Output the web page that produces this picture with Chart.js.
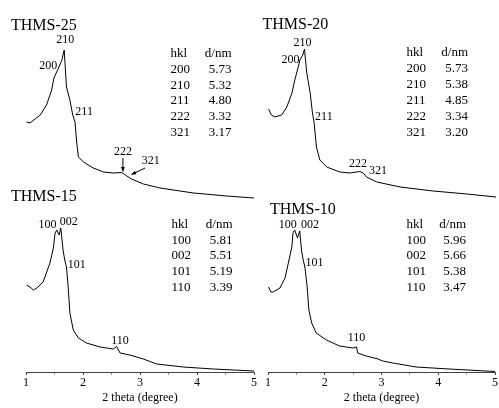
<!DOCTYPE html>
<html>
<head>
<meta charset="utf-8">
<script src="https://cdn.jsdelivr.net/npm/chart.js@4.4.1/dist/chart.umd.min.js"></script>
<style>
  html, body { margin: 0; padding: 0; background: #fff; }
  #wrap { position: relative; width: 499px; height: 408px; }
  #wrap canvas { position: absolute; left: 0; top: 0; }
</style>
</head>
<body>
<div id="wrap">
  <canvas id="c25" width="499" height="408"></canvas>
  <canvas id="c20" width="499" height="408"></canvas>
  <canvas id="c15" width="499" height="408"></canvas>
  <canvas id="c10" width="499" height="408"></canvas>
</div>
<script>
const SERIF = '"Liberation Serif", "Times New Roman", serif'

// THMS-25 (2 theta in degree, intensity in a.u.)
const theta25 = [1.01, 1.07, 1.25, 1.36, 1.45, 1.49, 1.57, 1.63, 1.67, 1.71, 1.77, 1.82, 1.86, 1.89, 1.92, 2.01, 2.18, 2.36, 2.53, 2.68, 2.77, 2.85, 3.06, 3.35, 3.94, 4.52, 5.00]
const int25 = [78, 77, 85, 95, 110, 122, 132, 140, 150, 113, 100, 85, 78, 57, 43, 38, 32, 28, 27, 27.5, 24, 21, 16, 12, 7, 4, 2]
const hkl25 = ['200', '210', '211', '222', '321']
const dnm25 = ['5.73', '5.32', '4.80', '3.32', '3.17']
const peaks25 = [
  { t: '210', x: 1.69, y: 160 },
  { t: '200', x: 1.39, y: 134 },
  { t: '211', x: 2.02, y: 88 },
  { t: '222', x: 2.70, y: 48 },
  { t: '321', x: 3.19, y: 39 },
]
const arrows25 = [
  { x1: 2.70, y1: 42, x2: 2.70, y2: 28.5 },
  { x1: 3.09, y1: 32, x2: 2.85, y2: 25.5 },
]

// THMS-20
const theta20 = [1.01, 1.06, 1.12, 1.24, 1.33, 1.42, 1.47, 1.53, 1.56, 1.61, 1.64, 1.68, 1.74, 1.78, 1.81, 1.85, 1.91, 2.03, 2.26, 2.44, 2.61, 2.67, 2.73, 2.91, 3.32, 3.90, 4.49, 5.00]
const int20 = [91, 85, 83, 85, 93, 107, 120, 133, 140, 145, 151, 127, 107, 87, 77, 53, 40, 33, 28, 27, 28.5, 27, 23, 18, 13, 9, 6, 3]
const hkl20 = ['200', '210', '211', '222', '321']
const dnm20 = ['5.73', '5.38', '4.85', '3.34', '3.20']
const peaks20 = [
  { t: '210', x: 1.605, y: 157 },
  { t: '200', x: 1.395, y: 140 },
  { t: '211', x: 1.98, y: 83 },
  { t: '222', x: 2.58, y: 36 },
  { t: '321', x: 2.93, y: 29 },
]

// THMS-15
const theta15 = [1.01, 1.07, 1.13, 1.19, 1.30, 1.42, 1.48, 1.51, 1.54, 1.58, 1.61, 1.65, 1.68, 1.71, 1.74, 1.77, 1.83, 1.92, 2.06, 2.30, 2.53, 2.59, 2.65, 2.82, 3.06, 3.29, 3.76, 4.29, 5.00]
const int15 = [87, 85, 82, 84, 90, 109, 124, 139, 142, 137, 144, 122, 112, 105, 85, 59, 42, 34, 29, 25, 23, 25.5, 19, 17, 13, 8, 5, 3, 1]
const hkl15 = ['100', '002', '101', '110']
const dnm15 = ['5.81', '5.51', '5.19', '3.39']
const peaks15 = [
  { t: '100', x: 1.377, y: 147 },
  { t: '002', x: 1.75, y: 150 },
  { t: '101', x: 1.89, y: 107 },
  { t: '110', x: 2.65, y: 31 },
]

// THMS-10
const theta10 = [1.01, 1.05, 1.09, 1.21, 1.30, 1.37, 1.42, 1.44, 1.47, 1.52, 1.56, 1.59, 1.62, 1.65, 1.69, 1.72, 1.77, 1.85, 2.03, 2.26, 2.50, 2.56, 2.58, 2.73, 2.94, 3.02, 3.20, 3.61, 4.19, 5.00]
const int10 = [85, 80, 80, 84, 94, 112, 125, 139, 142, 134, 141, 122, 112, 105, 85, 62, 49, 39, 32, 26, 24, 25, 19, 16, 13, 11, 9, 5, 3, 0.5]
const hkl10 = ['100', '002', '101', '110']
const dnm10 = ['5.96', '5.66', '5.38', '3.47']
const peaks10 = [
  { t: '100', x: 1.35, y: 147 },
  { t: '002', x: 1.74, y: 147 },
  { t: '101', x: 1.82, y: 109 },
  { t: '110', x: 2.56, y: 34 },
]

const xTicks = [1, 2, 3, 4, 5]

// draws sample name, hkl table, peak labels and arrows
const panelText = {
  id: 'panelText',
  afterDraw(chart, args, opts) {
    const ctx = chart.ctx
    const xs = chart.scales.x
    const ys = chart.scales.y
    ctx.save()
    ctx.fillStyle = '#000'
    ctx.strokeStyle = '#000'

    ctx.font = '16px ' + SERIF
    ctx.textAlign = 'left'
    ctx.textBaseline = 'alphabetic'
    ctx.fillText(opts.name, opts.nameX, opts.nameY)

    ctx.font = '13px ' + SERIF
    ctx.fillText('hkl', opts.tableX, opts.tableY)
    ctx.textAlign = 'right'
    ctx.fillText('d/nm', opts.tableX + opts.colW, opts.tableY)
    opts.hkl.forEach((h, i) => {
      const y = opts.tableY + (i + 1) * opts.rowH
      ctx.textAlign = 'left'
      ctx.fillText(h, opts.tableX, y)
      ctx.textAlign = 'right'
      ctx.fillText(opts.d[i], opts.tableX + opts.colW, y)
    })

    ctx.font = '12px ' + SERIF
    ctx.textAlign = 'center'
    ctx.textBaseline = 'middle'
    opts.peaks.forEach((p) => {
      ctx.fillText(p.t, xs.getPixelForValue(p.x), ys.getPixelForValue(p.y))
    })

    ctx.lineWidth = 1
    ;(opts.arrows || []).forEach((a) => {
      const x1 = xs.getPixelForValue(a.x1)
      const y1 = ys.getPixelForValue(a.y1)
      const x2 = xs.getPixelForValue(a.x2)
      const y2 = ys.getPixelForValue(a.y2)
      const ang = Math.atan2(y2 - y1, x2 - x1)
      ctx.beginPath()
      ctx.moveTo(x1, y1)
      ctx.lineTo(x2, y2)
      ctx.stroke()
      ctx.beginPath()
      ctx.moveTo(x2, y2)
      ctx.lineTo(x2 - 5 * Math.cos(ang - 0.4), y2 - 5 * Math.sin(ang - 0.4))
      ctx.lineTo(x2 - 5 * Math.cos(ang + 0.4), y2 - 5 * Math.sin(ang + 0.4))
      ctx.closePath()
      ctx.fill()
    })
    ctx.restore()
  },
}

function makePanel(id, theta, inten, padding, showAxis, text) {
  const xAxis = {
    type: 'linear',
    min: 1,
    max: 5,
    display: showAxis,
    border: { display: true, color: '#444', width: 1 },
    grid: {
      drawOnChartArea: false,
      drawTicks: true,
      tickLength: 3,
      tickColor: (c) => (xTicks.includes(c.tick.value) ? '#444' : '#999'),
    },
    ticks: {
      stepSize: 0.5,
      autoSkip: false,
      maxRotation: 0,
      padding: 1,
      color: '#000',
      font: { family: SERIF, size: 12 },
      callback: (v) => (xTicks.includes(v) ? String(v) : ''),
    },
    title: {
      display: true,
      text: '2 theta (degree)',
      color: '#000',
      font: { family: SERIF, size: 12 },
      padding: { top: 0, bottom: 3 },
    },
  }
  if (showAxis) {
    xAxis.afterFit = (s) => {
      s.height = 36
    }
  }
  return new Chart(document.getElementById(id), {
    type: 'line',
    data: {
      datasets: [
        {
          data: theta.map((t, i) => ({ x: t, y: inten[i] })),
          borderColor: '#000',
          borderWidth: 1,
          pointRadius: 0,
          tension: 0,
          fill: false,
          clip: false,
        },
      ],
    },
    options: {
      responsive: false,
      animation: false,
      devicePixelRatio: 1,
      layout: { padding },
      plugins: {
        legend: { display: false },
        tooltip: { enabled: false },
        panelText: text,
      },
      scales: {
        x: xAxis,
        y: { min: 0, max: 160, display: false },
      },
    },
    plugins: [panelText],
  })
}

makePanel('c25', theta25, int25, { left: 26, right: 245, top: 40, bottom: 208 }, false, {
  name: 'THMS-25', nameX: 11, nameY: 30,
  tableX: 170.5, tableY: 57, colW: 61, rowH: 15.8,
  hkl: hkl25, d: dnm25, peaks: peaks25, arrows: arrows25,
})
makePanel('c20', theta20, int20, { left: 268, right: 3, top: 40, bottom: 208 }, false, {
  name: 'THMS-20', nameX: 262.5, nameY: 28.5,
  tableX: 406.5, tableY: 56, colW: 61.5, rowH: 16,
  hkl: hkl20, d: dnm20, peaks: peaks20, arrows: [],
})
makePanel('c15', theta15, int15, { left: 26, right: 245, top: 212, bottom: 0 }, true, {
  name: 'THMS-15', nameX: 11, nameY: 201,
  tableX: 171.5, tableY: 227.7, colW: 61, rowH: 15.8,
  hkl: hkl15, d: dnm15, peaks: peaks15, arrows: [],
})
makePanel('c10', theta10, int10, { left: 268, right: 3, top: 212, bottom: 0 }, true, {
  name: 'THMS-10', nameX: 270, nameY: 213.5,
  tableX: 406.5, tableY: 227.7, colW: 59.5, rowH: 15.8,
  hkl: hkl10, d: dnm10, peaks: peaks10, arrows: [],
})
</script>
</body>
</html>
